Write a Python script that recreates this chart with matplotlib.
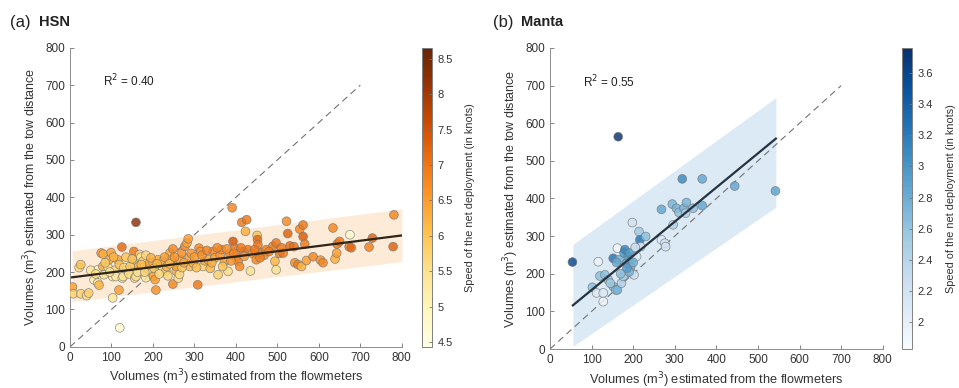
import numpy as np
import matplotlib
matplotlib.use("Agg")
import matplotlib.pyplot as plt
from matplotlib.colors import Normalize

plt.rcParams['font.family'] = ['Liberation Sans', 'DejaVu Sans']

# ---- HSN data (flowmeter volume, tow-distance volume, speed in knots)
hsn_x = [6, 8, 22, 26, 26, 40, 45, 58, 67, 67, 70, 75, 80, 79, 82, 92, 94, 99, 103, 103,
         108, 111, 115, 119, 118, 120, 125, 126, 128, 137, 142, 154, 154, 156, 159, 159, 165, 168, 171, 176,
         177, 183, 183, 189, 192, 197, 200, 201, 205, 207, 212, 217, 221, 224, 231, 233, 241, 244, 248, 248,
         256, 256, 261, 264, 265, 269, 277, 282, 285, 287, 289, 297, 308, 311, 315, 321, 325, 333, 338, 345,
         349, 357, 362, 365, 372, 381, 385, 391, 393, 397, 400, 405, 409, 414, 418, 423, 426, 429, 435, 440,
         449, 451, 452, 453, 461, 468, 473, 489, 494, 497, 505, 514, 522, 525, 530, 540, 542, 550, 554, 558,
         562, 562, 566, 570, 586, 604, 610, 634, 639, 643, 644, 650, 673, 675, 678, 721, 729, 779, 781,
         50, 62, 85, 96, 105, 130, 135, 145, 150, 163, 172, 180, 195, 203, 210, 215, 228, 236, 240, 252,
         270, 275, 292, 300, 305, 318, 330, 342, 355, 368, 378, 388, 395, 412, 420, 445, 458, 480, 497, 510]
hsn_y = [160, 142, 212, 220, 142, 137, 144, 179, 206, 171, 165, 251, 248, 215, 193, 212, 233, 252, 188, 131,
         205, 188, 233, 220, 152, 51, 267, 184, 188, 206, 195, 255, 222, 184, 333, 188, 215, 247, 240, 229,
         212, 245, 185, 208, 224, 198, 226, 189, 180, 152, 233, 215, 202, 229, 203, 215, 251, 233, 262, 168,
         203, 215, 184, 194, 233, 251, 269, 278, 289, 238, 215, 224, 166, 264, 255, 215, 230, 233, 210, 255,
         238, 193, 245, 260, 228, 202, 250, 372, 282, 264, 240, 229, 215, 333, 255, 309, 340, 260, 203, 250,
         233, 298, 287, 273, 251, 245, 260, 269, 229, 206, 250, 251, 336, 303, 270, 268, 225, 220, 315, 215,
         295, 326, 275, 231, 241, 232, 225, 318, 235, 251, 275, 282, 268, 300, 265, 267, 291, 268, 353,
         205, 195, 225, 200, 240, 212, 240, 215, 235, 200, 220, 200, 238, 210, 222, 195, 240, 190, 222, 240,
         212, 225, 250, 240, 212, 245, 258, 225, 265, 215, 262, 230, 250, 265, 242, 260, 238, 255, 278, 265]
hsn_speed = [6.5, 5.8, 5.7, 6.0, 5.8, 5.6, 5.8, 5.2, 5.0, 5.3, 6.2, 6.6, 6.3, 6.3, 5.5, 5.5, 6.3, 6.5, 5.3, 5.4,
             5.7, 5.2, 6.4, 6.0, 6.5, 4.7, 7.2, 5.4, 5.5, 5.8, 5.6, 7.0, 5.8, 5.5, 8.3, 5.6, 6.3, 5.6, 5.5, 5.8,
             6.0, 5.7, 5.4, 6.2, 6.4, 5.5, 6.3, 6.5, 6.5, 6.7, 6.3, 5.5, 5.5, 6.2, 6.0, 6.2, 6.4, 6.4, 6.8, 6.8,
             6.3, 6.5, 5.6, 5.6, 6.5, 6.7, 6.8, 6.4, 6.5, 6.4, 6.2, 6.3, 7.0, 6.8, 6.6, 5.8, 6.3, 6.3, 6.2, 6.8,
             6.5, 5.8, 6.6, 6.8, 6.5, 5.6, 6.9, 6.8, 7.5, 7.0, 6.8, 6.8, 6.8, 7.0, 7.0, 6.3, 7.0, 7.0, 5.5, 6.6,
             6.8, 6.0, 7.2, 7.0, 7.2, 6.8, 6.9, 7.0, 6.2, 5.5, 7.0, 7.0, 6.8, 7.3, 7.2, 7.1, 6.8, 6.9, 6.8, 6.2,
             7.4, 7.0, 7.0, 6.5, 6.8, 6.7, 6.8, 6.8, 6.3, 6.5, 7.0, 7.0, 7.0, 4.7, 7.2, 6.9, 7.3, 7.3, 6.8,
             5.4, 5.6, 5.9, 5.4, 6.2, 5.7, 6.0, 5.9, 6.1, 5.5, 6.1, 5.7, 6.3, 6.0, 6.2, 5.6, 6.5, 5.7, 6.1, 6.6,
             6.0, 6.4, 6.6, 6.5, 6.1, 6.7, 6.9, 6.3, 6.8, 6.0, 6.7, 6.6, 6.8, 7.0, 6.6, 7.0, 6.9, 6.9, 7.0, 7.0]
hsn_fit_x = [5, 800]
hsn_fit_y = [186, 298]
hsn_band_lo = [121, 228]
hsn_band_hi = [257, 369]
hsn_r2 = "0.40"

# ---- Manta data
manta_x = [54, 164, 102, 112, 116, 120, 128, 128, 132, 140, 152, 152, 158, 162, 162, 166, 172, 176, 178, 180,
           184, 188, 192, 194, 196, 196, 198, 202, 208, 214, 216, 218, 230, 268, 268, 276, 278, 294, 296, 304,
           310, 318, 322, 328, 326, 344, 366, 366, 444, 542, 190, 170, 185, 200, 205, 145, 160]
manta_y = [231, 564, 164, 149, 232, 194, 149, 126, 197, 184, 241, 166, 157, 268, 157, 237, 175, 193, 255, 264,
           228, 246, 255, 219, 202, 237, 336, 197, 246, 312, 290, 272, 299, 371, 290, 281, 272, 385, 330, 374,
           363, 452, 374, 389, 361, 374, 452, 381, 433, 420, 205, 200, 215, 230, 270, 175, 230]
manta_speed = [3.6, 3.75, 2.65, 2.1, 1.95, 2.65, 2.1, 1.9, 2.65, 2.65, 3.25, 2.75, 2.55, 1.9, 2.75, 2.75, 2.45, 2.55, 2.95, 3.15,
               2.85, 3.0, 2.95, 2.85, 2.55, 2.95, 2.2, 2.2, 2.1, 2.55, 3.25, 2.2, 2.65, 2.85, 2.05, 2.2, 2.2, 2.75, 2.45, 2.75,
               2.65, 3.1, 2.75, 2.75, 2.45, 2.65, 2.85, 2.85, 2.85, 2.9, 2.75, 2.65, 2.95, 2.75, 2.3, 2.55, 2.85]
manta_fit_x = [55, 543]
manta_fit_y = [116, 559]
manta_band_lo = [7, 377]
manta_band_hi = [278, 668]
manta_r2 = "0.55"

ticks = list(range(0, 801, 100))
hsn_cticks = [4.5, 5, 5.5, 6, 6.5, 7, 7.5, 8, 8.5]
manta_cticks = [2, 2.2, 2.4, 2.6, 2.8, 3, 3.2, 3.4, 3.6]

fig = plt.figure(figsize=(9.59, 3.88), dpi=100)


def panel(ax_rect, cax_rect, x, y, c, cmap, vmin, vmax, fx, fy, blo, bhi,
          band_col, line_col, r2, cticks):
    ax = fig.add_axes(ax_rect)
    cax = fig.add_axes(cax_rect)
    ax.fill_between(fx, blo, bhi, color=band_col, lw=0, zorder=1)
    ax.plot([0, 700], [0, 700], ls=(0, (6, 4)), color='0.45', lw=0.8, zorder=2)
    sc = ax.scatter(x, y, c=c, cmap=cmap, norm=Normalize(vmin, vmax), s=40,
                    edgecolors='0.45', linewidths=0.5, alpha=0.82, zorder=3)
    ax.plot(fx, fy, color=line_col, lw=1.6, zorder=4)
    ax.text(80, 710, r"R$^2$ = " + r2, fontsize=8.5, va='center', color='#222222')
    ax.set_xlim(0, 800)
    ax.set_ylim(0, 800)
    ax.set_xticks(ticks)
    ax.set_yticks(ticks)
    for s in ['top', 'right']:
        ax.spines[s].set_visible(False)
    for s in ['left', 'bottom']:
        ax.spines[s].set_color('0.55')
        ax.spines[s].set_linewidth(0.7)
    ax.tick_params(direction='in', length=3, width=0.6, color='0.45',
                   labelsize=8.5, labelcolor='#333333')
    ax.set_xlabel(r"Volumes (m$^3$) estimated from the flowmeters", fontsize=9.2,
                  color='#333333', labelpad=3)
    ax.set_ylabel(r"Volumes (m$^3$) estimated from the tow distance", fontsize=9,
                  color='#333333', labelpad=3)
    cb = fig.colorbar(sc, cax=cax)
    cb.solids.set_alpha(1)
    cb.set_ticks(cticks)
    cb.ax.set_yticklabels(['%g' % t for t in cticks])
    cb.outline.set_edgecolor('0.5')
    cb.outline.set_linewidth(0.7)
    cb.ax.tick_params(direction='in', length=2.5, width=0.6, color='0.45', pad=4,
                      labelsize=8, labelcolor='#333333')
    cb.set_label("Speed of the net deployment (in knots)", fontsize=7.8, color='#333333',
                 labelpad=9)
    return ax


panel([0.073, 0.106, 0.346, 0.771], [0.440, 0.106, 0.0104, 0.771],
      hsn_x, hsn_y, hsn_speed, 'YlOrBr', 4.43, 8.66,
      hsn_fit_x, hsn_fit_y, hsn_band_lo, hsn_band_hi,
      '#fdebd7', '#2e2418', hsn_r2, hsn_cticks)
panel([0.5735, 0.1005, 0.347, 0.776], [0.9406, 0.1005, 0.0104, 0.776],
      manta_x, manta_y, manta_speed, 'Blues', 1.83, 3.76,
      manta_fit_x, manta_fit_y, manta_band_lo, manta_band_hi,
      '#dceaf6', '#263340', manta_r2, manta_cticks)

fig.text(10 / 959, 1 - 22 / 388, "(a)", fontsize=12, va='center', ha='left', color='#222222')
fig.text(39 / 959, 1 - 22 / 388, "HSN", fontsize=10.5, fontweight='bold', va='center', ha='left', color='#222222')
fig.text(493 / 959, 1 - 22 / 388, "(b)", fontsize=12, va='center', ha='left', color='#222222')
fig.text(521 / 959, 1 - 22 / 388, "Manta", fontsize=10.5, fontweight='bold', va='center', ha='left', color='#222222')

fig.savefig("out.png", dpi=100)
